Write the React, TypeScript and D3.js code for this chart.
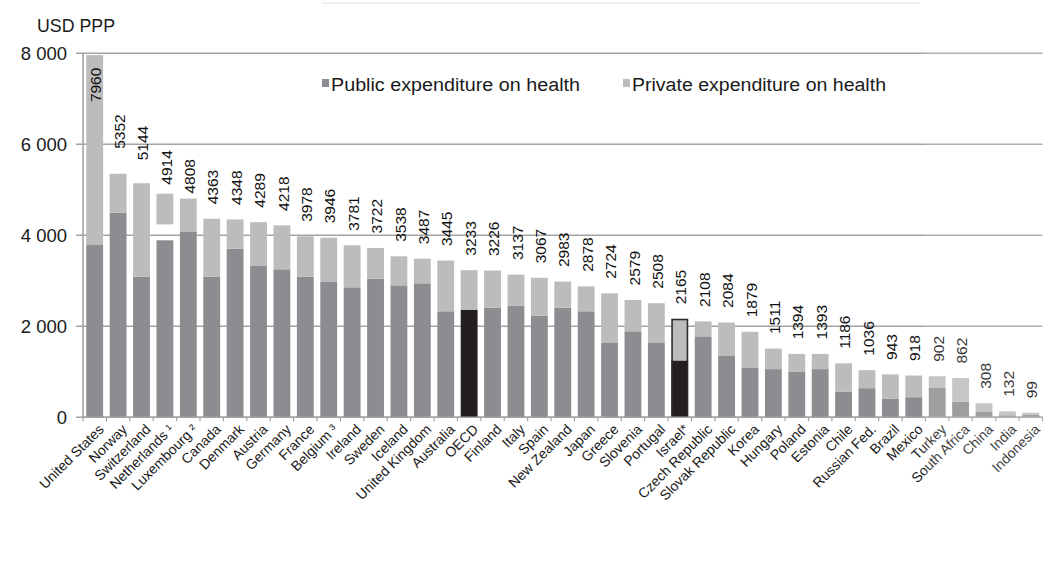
import React from 'react';
import * as d3 from 'd3';

const countries = [
  'United States', 'Norway', 'Switzerland', 'Netherlands ¹', 'Luxembourg ²', 'Canada', 'Denmark',
  'Austria', 'Germany', 'France', 'Belgium ³', 'Ireland', 'Sweden', 'Iceland', 'United Kingdom',
  'Australia', 'OECD', 'Finland', 'Italy', 'Spain', 'New Zealand', 'Japan', 'Greece', 'Slovenia',
  'Portugal', 'Israel*', 'Czech Republic', 'Slovak Republic', 'Korea', 'Hungary', 'Poland', 'Estonia',
  'Chile', 'Russian Fed.', 'Brazil', 'Mexico', 'Turkey', 'South Africa', 'China', 'India', 'Indonesia',
];

const totalValues = [
  7960, 5352, 5144, 4914, 4808, 4363, 4348, 4289, 4218, 3978, 3946, 3781, 3722, 3538, 3487,
  3445, 3233, 3226, 3137, 3067, 2983, 2878, 2724, 2579, 2508, 2165, 2108, 2084, 1879, 1511,
  1394, 1393, 1186, 1036, 943, 918, 902, 862, 308, 132, 99,
];

const publicValues = [
  3800, 4498, 3090, 3890, 4073, 3092, 3707, 3326, 3253, 3092, 2974, 2857, 3048, 2901, 2945,
  2330, 2366, 2410, 2454, 2234, 2410, 2330, 1647, 1890, 1647, 1250, 1779, 1360, 1096, 1059,
  1007, 1059, 566, 640, 404, 441, 647, 346, 118, 45, 50,
];

const unallocatedValues = [
  0, 0, 0, 350, 0, 0, 0, 0, 0, 0, 0, 0, 0, 0, 0,
  0, 0, 0, 0, 0, 0, 0, 0, 0, 0, 0, 0, 0, 0, 0,
  0, 0, 0, 0, 0, 0, 0, 0, 0, 0, 0,
];

const privateValues = [
  4160, 854, 2054, 674, 735, 1271, 641, 963, 965, 886, 972, 924, 674, 637, 542,
  1115, 867, 816, 683, 833, 573, 548, 1077, 689, 861, 915, 329, 724, 783, 452,
  387, 334, 620, 396, 539, 477, 255, 516, 190, 87, 49,
];

const highlighted = ['OECD', 'Israel*'];
const outlined = ['Israel*'];

const yTicks = [0, 2000, 4000, 6000, 8000];
const yTickLabels = ['0', '2 000', '4 000', '6 000', '8 000'];
const yAxisTitle = 'USD PPP';
const legendLabels = ['Public expenditure on health', 'Private expenditure on health'];

// styling
const W = 1049;
const H = 580;
const FONT = "'Liberation Sans', Arial, Helvetica, sans-serif";
const PUBLIC_COLOR = '#8d8d91';
const PRIVATE_COLOR = '#bcbcbc';
const HIGHLIGHT_COLOR = '#231f20';
const GRID_COLOR = '#a3a3a3';
const LABEL_GAP = 14.5;
const labelGapOverrides: Record<string, number> = {
  'United States': -47,
  Norway: 25,
  Switzerland: 23,
  'Netherlands ¹': 9,
  'Luxembourg ²': 5,
};

export default function App() {
  const x = d3.scaleBand<string>().domain(countries).range([83, 1042.5]).paddingInner(0.28).paddingOuter(0.14);
  const y = d3.scaleLinear().domain([0, 8000]).range([417.3, 53.3]);

  const rows = countries.map((c, i) => ({
    country: c,
    public: publicValues[i],
    gap: unallocatedValues[i],
    private: privateValues[i],
    total: totalValues[i],
  }));
  const keys = ['public', 'gap', 'private'];
  const series = d3.stack<any>().keys(keys)(rows);

  const step = x.step();
  const x0 = x.range()[0];
  const boundaries = d3.range(countries.length + 1).map((i) => x0 + i * step);

  return (
    <svg width={W} height={H} style={{ position: 'absolute', left: 0, top: 0, background: '#fff' }} fontFamily={FONT}>
      {/* faint legend frame top edge */}
      <line x1={322} x2={920} y1={3} y2={3} stroke="#e4e4e4" strokeWidth={1.2} />

      {/* gridlines */}
      {yTicks.map((t) => (
        <line key={'g' + t} x1={76} x2={1042.5} y1={y(t)} y2={y(t)} stroke={GRID_COLOR} strokeWidth={1.6} />
      ))}
      {/* y axis */}
      <line x1={83} x2={83} y1={y(8000)} y2={y(0)} stroke={GRID_COLOR} strokeWidth={1.6} />
      {yTicks.map((t, i) => (
        <text key={'yl' + t} x={67} y={y(t)} dy="0.36em" textAnchor="end" fontSize={18.5} fill="#1a1a1a">
          {yTickLabels[i]}
        </text>
      ))}
      <text x={37} y={32} fontSize={19} textLength={78} lengthAdjust="spacingAndGlyphs" fill="#1a1a1a">
        {yAxisTitle}
      </text>

      {/* bars */}
      {series.map((s) =>
        s.map((d, i) => {
          const c = countries[i];
          const key = s.key;
          if (key === 'gap') return null;
          let fill = key === 'public' ? PUBLIC_COLOR : PRIVATE_COLOR;
          if (key === 'public' && highlighted.includes(c)) fill = HIGHLIGHT_COLOR;
          const y0 = y(d[1]);
          const h = y(d[0]) - y(d[1]);
          if (h <= 0) return null;
          return <rect key={key + i} x={x(c)} y={y0} width={x.bandwidth()} height={h} fill={fill} />;
        })
      )}
      {/* outlines */}
      {countries.map((c, i) =>
        outlined.includes(c) ? (
          <rect
            key={'o' + i}
            x={(x(c) as number) + 0.75}
            y={y(totalValues[i]) + 0.75}
            width={x.bandwidth() - 1.5}
            height={y(0) - y(totalValues[i]) - 1.5}
            fill="none"
            stroke="#2a2a2a"
            strokeWidth={1.5}
          />
        ) : null
      )}

      {/* x axis */}
      <line x1={83} x2={1042.5} y1={y(0)} y2={y(0)} stroke={GRID_COLOR} strokeWidth={1.6} />
      {boundaries.map((bx, i) => (
        <line key={'xt' + i} x1={bx} x2={bx} y1={y(0)} y2={y(0) + 4} stroke={GRID_COLOR} strokeWidth={1.2} />
      ))}

      {/* value labels */}
      {countries.map((c, i) => {
        const cx = (x(c) as number) + x.bandwidth() / 2 + 1;
        const gap = labelGapOverrides[c] ?? LABEL_GAP;
        const ly = y(totalValues[i]) - gap;
        return (
          <text
            key={'v' + i}
            transform={`translate(${cx},${ly}) rotate(-90)`}
            dy="0.36em"
            fontSize={15.5}
            fill="#111"
          >
            {totalValues[i]}
          </text>
        );
      })}

      {/* category labels */}
      {countries.map((c) => {
        const cx = (x(c) as number) + x.bandwidth() / 2 + 3;
        return (
          <text
            key={'c' + c}
            transform={`translate(${cx},${y(0) + 6}) rotate(-45)`}
            textAnchor="end"
            dy="0.7em"
            fontSize={14}
            fill="#1a1a1a"
          >
            {c}
          </text>
        );
      })}

      {/* legend */}
      {legendLabels.map((l, i) => {
        const lx = i === 0 ? 322 : 623;
        return (
          <g key={'lg' + i}>
            <rect x={lx} y={79} width={7} height={8} fill={i === 0 ? PUBLIC_COLOR : PRIVATE_COLOR} />
            <text x={lx + 9} y={91} fontSize={18} textLength={i === 0 ? 249 : 254} lengthAdjust="spacingAndGlyphs" fill="#1a1a1a">
              {l}
            </text>
          </g>
        );
      })}

      {/* faded right-hand strip of the scanned original */}
      <rect x={925} y={40} width={124} height={500} fill="#fff" opacity={0.15} />
    </svg>
  );
}
